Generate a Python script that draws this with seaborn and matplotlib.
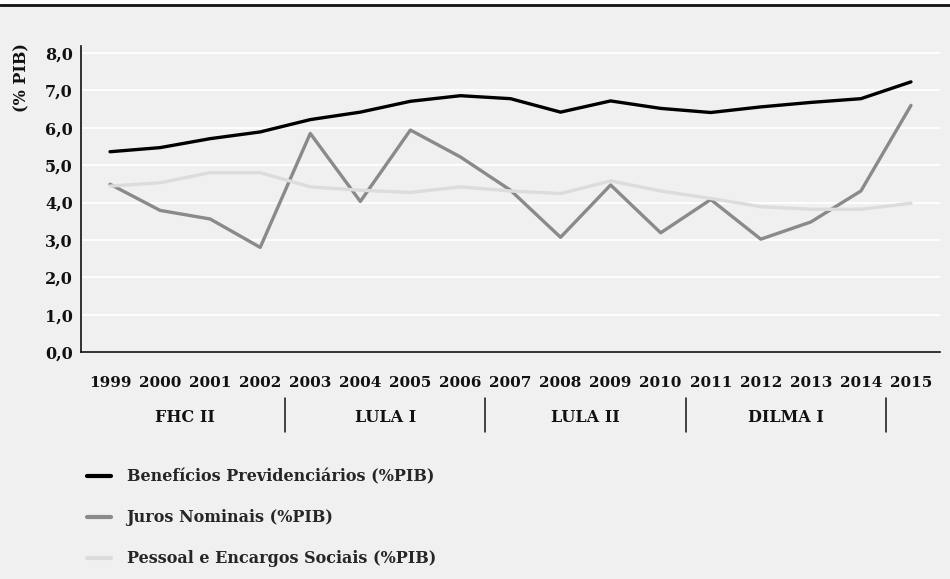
import matplotlib
matplotlib.use("Agg")
import matplotlib.pyplot as plt
import pandas as pd
import seaborn as sns
from matplotlib.lines import Line2D
from matplotlib.patches import Rectangle
from matplotlib.ticker import FuncFormatter

years = list(range(1999, 2016))
beneficios = [5.36, 5.47, 5.71, 5.89, 6.22, 6.42, 6.71, 6.86, 6.78, 6.42, 6.72,
              6.52, 6.41, 6.56, 6.68, 6.78, 7.23]
juros = [4.49, 3.79, 3.56, 2.80, 5.85, 4.03, 5.94, 5.22, 4.33, 3.07, 4.47,
         3.19, 4.08, 3.02, 3.48, 4.31, 6.60]
pessoal = [4.44, 4.53, 4.80, 4.80, 4.42, 4.33, 4.27, 4.42, 4.31, 4.24, 4.58,
           4.31, 4.11, 3.89, 3.82, 3.82, 3.98]
series_names = ["Benefícios Previdenciários (%PIB)", "Juros Nominais (%PIB)",
                "Pessoal e Encargos Sociais (%PIB)"]
periods = ["FHC II", "LULA I", "LULA II", "DILMA I"]
period_centers = [2000.5, 2004.5, 2008.5, 2012.5]
period_breaks = [2002.5, 2006.5, 2010.5, 2014.5]

df = pd.DataFrame({
    "ano": years * 3,
    "valor": beneficios + juros + pessoal,
    "serie": [series_names[0]] * 17 + [series_names[1]] * 17 + [series_names[2]] * 17,
})

sns.set_theme(style="white")
plt.rcParams["font.family"] = ["DejaVu Serif"]
plt.rcParams["font.weight"] = "bold"

bg = "#f0f0f0"
fig = plt.figure(figsize=(9.5, 5.79), dpi=100, facecolor=bg)
ax = fig.add_axes([81 / 950, 1 - 352 / 579, (940 - 81) / 950, (352 - 46) / 579])
ax.set_facecolor(bg)

palette = {series_names[0]: "#000000", series_names[1]: "#8a8a8a", series_names[2]: "#dcdcdc"}
sns.lineplot(data=df, x="ano", y="valor", hue="serie", palette=palette, linewidth=2.4,
             ax=ax, legend=False, solid_joinstyle="round", solid_capstyle="round", zorder=3)

ax.set_xlim(1998.42, 2015.58)
ax.set_ylim(0, 8.19)
ax.set_yticks([0, 1, 2, 3, 4, 5, 6, 7, 8])
ax.yaxis.set_major_formatter(FuncFormatter(lambda v, p: f"{v:.1f}".replace(".", ",")))
ax.set_xticks(years)
ax.set_xticks([2002, 2006, 2010, 2014], minor=True)
ax.set_xticklabels([str(y) for y in years])
ax.tick_params(axis="both", which="both", length=0, labelsize=11, colors="#111111")
ax.tick_params(axis="y", pad=6, labelsize=11.5)
ax.tick_params(axis="x", pad=17)
ax.grid(False)
ax.yaxis.grid(True, color="white", linewidth=1.3)
ax.xaxis.grid(True, which="minor", color="white", linewidth=1.3)
ax.set_axisbelow(True)
for s in ["top", "right"]:
    ax.spines[s].set_visible(False)
for s in ["left", "bottom"]:
    ax.spines[s].set_color("#111111")
    ax.spines[s].set_linewidth(1.2)
ax.set_xlabel("")
ax.set_ylabel("")

fig.text(22 / 950, 1 - 78 / 579, "(% PIB)", rotation=90, ha="center", va="center",
         fontsize=11.5, fontweight="bold", color="#111111")

# periodos de governo
trans = ax.get_xaxis_transform()
for name, c in zip(periods, period_centers):
    ax.text(c, -(418 - 352) / 306, name, transform=trans, ha="center", va="center",
            fontsize=11.5, fontweight="bold", color="#111111", clip_on=False)
for b in period_breaks:
    ax.add_line(Line2D([b, b], [-(398 - 352) / 306, -(432 - 352) / 306], transform=trans,
                       color="#111111", linewidth=1.1, clip_on=False))

# legenda
handles = [Line2D([], [], color=palette[n], linewidth=3) for n in series_names]
fig.legend(handles, series_names, loc="upper left", bbox_to_anchor=(81 / 950, 1 - 462 / 579),
           borderaxespad=0, frameon=False, fontsize=11.5, handlelength=1.45,
           handletextpad=1.0, labelspacing=1.5)

# faixa superior
fig.add_artist(Rectangle((0, 1 - 4 / 579), 1, 4 / 579, transform=fig.transFigure,
                         facecolor="white", edgecolor="none"))
fig.add_artist(Line2D([0, 1], [1 - 5 / 579, 1 - 5 / 579], transform=fig.transFigure,
                      color="#111111", linewidth=2))

fig.savefig("out.png", dpi=100, facecolor=bg)
